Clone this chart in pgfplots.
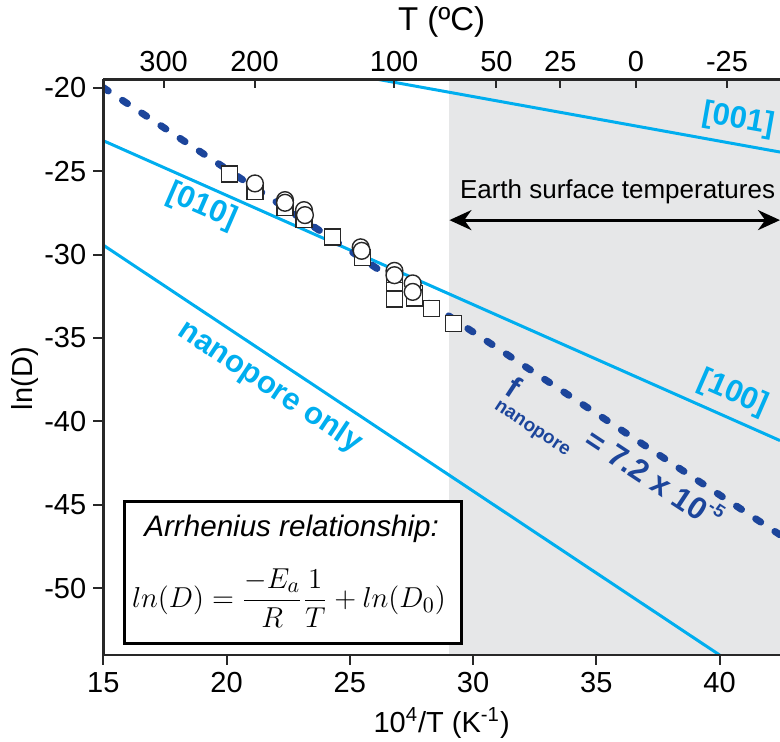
\documentclass[border=0pt]{standalone}
\usepackage[no-math]{fontspec}
\setmainfont{Liberation Sans}
\usepackage{pgfplots}
\pgfplotsset{compat=1.18}
\usetikzlibrary{arrows.meta}
\definecolor{lblue}{RGB}{0,174,239}
\definecolor{dblue}{RGB}{28,69,155}
\definecolor{bggray}{RGB}{230,231,232}
\definecolor{axgray}{RGB}{40,40,40}
\begin{document}
\begin{tikzpicture}
\pgfplotsset{
  every axis/.append style={
    scale only axis, width=338.35pt, height=287.85pt,
    xmin=15, xmax=42.45, ymin=-54, ymax=-19.5,
    axis line style={line width=1.3pt, axgray},
    major tick style={line width=1pt, axgray},
    tick label style={font=\fontsize{14.5}{17}\selectfont},
    label style={font=\fontsize{14.5}{17}\selectfont},
  }
}
\begin{axis}[
  axis on top,
  axis x line*=bottom, axis y line*=left,
  tick align=outside, major tick length=5pt,
  xtick={15,20,25,30,35,40}, xticklabels={15,20,25,30,35,40},
  ytick={-50,-45,-40,-35,-30,-25,-20}, yticklabels={-50,-45,-40,-35,-30,-25,-20},
  xlabel={10\textsuperscript{4}/T (K\textsuperscript{-1})},
  ylabel={ln(D)},
  xlabel style={at={(axis description cs:0.5,-0.1181)}, anchor=center},
  ylabel style={at={(axis description cs:-0.1154,0.48)}, anchor=center},
]
% Earth surface temperature region
\addplot[draw=none, fill=bggray, forget plot] coordinates {(29.04,-54) (42.45,-54) (42.45,-19.5) (29.04,-19.5)} -- cycle;
% model lines
\addplot[lblue, line width=1.5pt] coordinates {(15,-16.53) (42.45,-23.86)};
\addplot[lblue, line width=1.5pt] coordinates {(15,-23.18) (42.45,-41.15)};
\addplot[lblue, line width=1.5pt] coordinates {(15,-29.44) (40,-54)};
\addplot[dblue, line width=3.5pt, line cap=round, dash pattern=on 3pt off 8.5pt] coordinates {(15,-20) (42.45,-46.8)};
% data: squares
\addplot[only marks, mark=square*, mark size=4pt, mark options={fill=white, draw=axgray, line width=0.7pt}] coordinates {
(20.11,-25.18) (21.15,-26.24) (22.37,-27.18) (23.14,-27.90) (24.30,-28.94)
(25.51,-30.17) (26.81,-31.66) (26.81,-32.16) (26.81,-32.66) (27.62,-32.34)
(27.62,-32.60) (28.32,-33.23) (29.20,-34.13)};
% data: circles
\addplot[only marks, mark=*, mark size=4.2pt, mark options={fill=white, draw=axgray, line width=0.7pt}] coordinates {
(21.15,-25.74) (22.37,-26.74) (22.37,-26.90) (23.14,-27.34) (23.18,-27.64)
(25.44,-29.57) (25.48,-29.78) (26.81,-30.98) (26.81,-31.24) (27.55,-31.73) (27.55,-32.24)};
% labels
\node[lblue, rotate=-10, font=\fontsize{15.5}{18}\selectfont\bfseries] at (axis cs:40.75,-21.94) {[001]};
\node[lblue, rotate=-23.5, font=\fontsize{15.5}{18}\selectfont\bfseries] at (axis cs:18.99,-27.14) {[010]};
\node[lblue, rotate=-23.5, font=\fontsize{15.5}{18}\selectfont\bfseries] at (axis cs:40.55,-38.32) {[100]};
\node[lblue, rotate=-33.6, font=\fontsize{15.5}{18}\selectfont\bfseries] at (axis cs:21.76,-37.94) {nanopore only};
\node[dblue, rotate=-33.4, anchor=base west, inner sep=0pt, font=\fontsize{15.5}{18}\selectfont\bfseries] at (axis cs:31.22,-38.31)
  {\rlap{f}\raisebox{-1.1ex}{\fontsize{9.5}{10}\selectfont\bfseries nanopore}\ = 7.2 x 10\raisebox{0.9ex}{\fontsize{9}{10}\selectfont\bfseries -5}};
% Earth surface temperatures
\node[font=\fontsize{13}{15}\selectfont] at (axis cs:35.86,-26.24) {Earth surface temperatures};
\draw[line width=1.5pt, {Stealth[length=11pt,width=10pt]}-{Stealth[length=11pt,width=10pt]}] (axis cs:29.04,-27.94) -- (axis cs:42.45,-27.94);
% Arrhenius box
\draw[line width=1.5pt, fill=white] (axis cs:15.88,-44.83) rectangle (axis cs:29.54,-53.33);
\node[font=\fontsize{14.8}{17}\selectfont\itshape] at (axis cs:22.64,-46.43) {Arrhenius relationship:};
\node[font=\fontsize{15}{18}\selectfont] at (axis cs:22.53,-50.6) {$\displaystyle ln(D) = \frac{-E_a}{R}\frac{1}{T} + ln(D_0)$};
\end{axis}
\begin{axis}[
  axis x line*=top, hide y axis,
  tick align=inside, major tick length=4.5pt,
  xtick={17.4474,21.1350,26.7989,30.9454,33.5402,36.6099,40.2982},
  xticklabels={300,200,100,50,25,0,-25},
  xlabel={T (ºC)},
  xlabel style={at={(axis description cs:0.5,1.10)}, anchor=center, font=\fontsize{16.5}{19}\selectfont},
]
\end{axis}
\pgfresetboundingbox
\useasboundingbox (-51.65pt,-43.5pt) rectangle (338.35pt,327.5pt);
\end{tikzpicture}
\end{document}
